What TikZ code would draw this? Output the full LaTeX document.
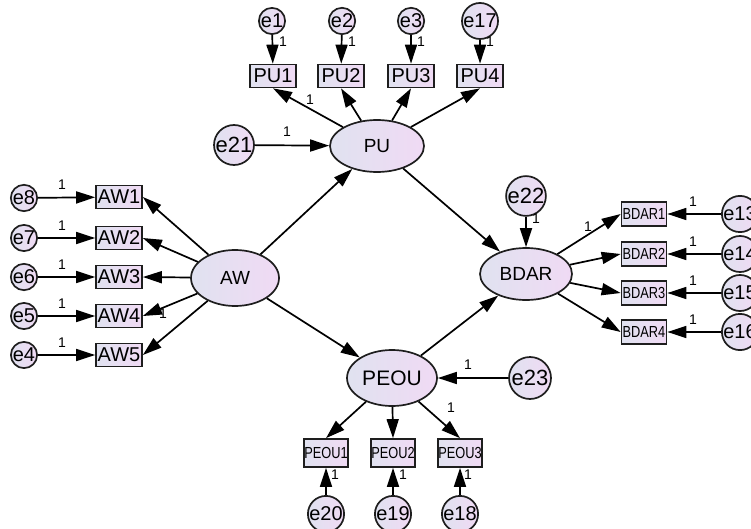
\documentclass[tikz,border=0pt]{standalone}
\usepackage{fontspec}
\setmainfont{Liberation Sans}
\newfontfamily\condfont[FakeStretch=0.8]{Liberation Sans}
\usetikzlibrary{arrows.meta,shapes.geometric}
\definecolor{lavL}{RGB}{224,226,240}
\definecolor{lavR}{RGB}{240,218,244}
\definecolor{edge}{RGB}{30,30,30}
\tikzset{
  grad/.style={left color=lavL, right color=lavR, draw=edge, line width=1.7pt},
  lat/.style={ellipse, grad, inner sep=0pt, font=\fontsize{19}{19}\selectfont},
  obs/.style={rectangle, grad, minimum width=46pt, minimum height=23pt, inner sep=0pt, font=\fontsize{20}{20}\selectfont},
  obsc/.style={rectangle, grad, minimum width=45pt, minimum height=24pt, inner sep=0pt, font=\condfont\fontsize{16}{16}\selectfont},
  err/.style={circle, grad, minimum size=25pt, inner sep=0pt, font=\fontsize{20}{20}\selectfont},
  errbig/.style={circle, grad, minimum size=40pt, inner sep=0pt, font=\fontsize{22}{22}\selectfont},
  arr/.style={-{Triangle[length=19pt,width=12pt]}, line width=1.7pt, draw=black},
  one/.style={font=\fontsize{14}{14}\selectfont, inner sep=0pt}
}
\begin{document}
\begin{tikzpicture}[x=1pt,y=-1pt]
\useasboundingbox (0,0) rectangle (751,529);
% latent variables
\node[lat, minimum width=94pt, minimum height=52pt] (PU) at (377,146) {PU};
\node[lat, minimum width=88pt, minimum height=56pt] (AW) at (235,278) {AW};
\node[lat, minimum width=92pt, minimum height=52pt] (BDAR) at (526,274) {BDAR};
\node[lat, minimum width=90pt, minimum height=56pt, font=\fontsize{21}{21}\selectfont] (PEOU) at (392,378) {PEOU};
% PU indicators
\node[obs] (PU1) at (273,76) {PU1};
\node[obs] (PU2) at (341,76) {PU2};
\node[obs] (PU3) at (411,76) {PU3};
\node[obs] (PU4) at (480,76) {PU4};
\node[err] (e1) at (272,21) {e1};
\node[err] (e2) at (342,21) {e2};
\node[err] (e3) at (411,21) {e3};
\node[err] (e17) at (480,21) {e17};
% AW indicators
\node[obs] (AW1) at (119,197) {AW1};
\node[obs] (AW2) at (119,238) {AW2};
\node[obs] (AW3) at (119,277) {AW3};
\node[obs] (AW4) at (119,316) {AW4};
\node[obs] (AW5) at (119,355) {AW5};
\node[err] (e8) at (24,198) {e8};
\node[err] (e7) at (24,238) {e7};
\node[err] (e6) at (24,277) {e6};
\node[err] (e5) at (24,316) {e5};
\node[err] (e4) at (24,355) {e4};
% BDAR indicators
\node[obsc] (BDAR1) at (644,214) {BDAR1};
\node[obsc] (BDAR2) at (644,254) {BDAR2};
\node[obsc] (BDAR3) at (644,293) {BDAR3};
\node[obsc] (BDAR4) at (644,332) {BDAR4};
\node[err] (e13) at (740,214) {e13};
\node[err] (e14) at (740,254) {e14};
\node[err] (e15) at (740,293) {e15};
\node[err] (e16) at (740,332) {e16};
% PEOU indicators
\node[obsc, minimum width=44pt, minimum height=28pt] (PEOU1) at (326,453) {PEOU1};
\node[obsc, minimum width=44pt, minimum height=28pt] (PEOU2) at (393,453) {PEOU2};
\node[obsc, minimum width=44pt, minimum height=28pt] (PEOU3) at (460,453) {PEOU3};
\node[err, minimum size=28pt] (e20) at (326,514) {e20};
\node[err, minimum size=28pt] (e19) at (393,514) {e19};
\node[err, minimum size=28pt] (e18) at (460,514) {e18};
% disturbances
\node[errbig] (e21) at (234,145) {e21};
\node[errbig, minimum size=38pt] (e22) at (526,196) {e22};
\node[errbig, minimum size=42pt] (e23) at (530,378) {e23};
% structural paths
\draw[arr] (AW) -- (PU);
\draw[arr] (AW) -- (PEOU);
\draw[arr] (PU) -- (BDAR);
\draw[arr] (PEOU) -- (BDAR);
\draw[arr] (e21) -- (PU);
\draw[arr] (e22) -- (BDAR);
\draw[arr] (e23) -- (PEOU);
% PU measurement
\foreach \b in {PU1,PU2,PU3,PU4} \draw[arr] (PU) -- (\b.south);
\draw[arr] (e1) -- (PU1);
\draw[arr] (e2) -- (PU2);
\draw[arr] (e3) -- (PU3);
\draw[arr] (e17) -- (PU4);
% AW measurement
\foreach \b in {AW1,AW2,AW3,AW4,AW5} \draw[arr] (AW) -- (\b.east);
\draw[arr] (e8) -- (AW1);
\draw[arr] (e7) -- (AW2);
\draw[arr] (e6) -- (AW3);
\draw[arr] (e5) -- (AW4);
\draw[arr] (e4) -- (AW5);
% BDAR measurement
\foreach \b in {BDAR1,BDAR2,BDAR3,BDAR4} \draw[arr] (BDAR) -- (\b.west);
\draw[arr] (e13) -- (BDAR1);
\draw[arr] (e14) -- (BDAR2);
\draw[arr] (e15) -- (BDAR3);
\draw[arr] (e16) -- (BDAR4);
% PEOU measurement
\foreach \b in {PEOU1,PEOU2,PEOU3} \draw[arr] (PEOU) -- (\b.north);
\draw[arr] (e20) -- (PEOU1);
\draw[arr] (e19) -- (PEOU2);
\draw[arr] (e18) -- (PEOU3);
% labels "1"
\node[one] (l1) at (283,42) {1};
\node[one] (l2) at (352,42) {1};
\node[one] (l3) at (421,42) {1};
\node[one] (l17) at (490,42) {1};
\node[one] (lpu1) at (310,100) {1};
\node[one] (l21) at (287,132) {1};
\node[one] (l8) at (62,185) {1};
\node[one] (l7) at (62,226) {1};
\node[one] (l6) at (62,265) {1};
\node[one] (l5) at (62,304) {1};
\node[one] (l4) at (62,343) {1};
\node[one] (law4) at (163,314) {1};
\node[one] (l22) at (536,219) {1};
\node[one] (lbd1) at (588,227) {1};
\node[one] (l13) at (693,202) {1};
\node[one] (l14) at (693,242) {1};
\node[one] (l15) at (693,281) {1};
\node[one] (l16) at (693,320) {1};
\node[one] (l23) at (468,365) {1};
\node[one] (lpe3) at (451,408) {1};
\node[one] (l20) at (335,475) {1};
\node[one] (l19) at (403,475) {1};
\node[one] (l18) at (468,475) {1};
\end{tikzpicture}
\end{document}
